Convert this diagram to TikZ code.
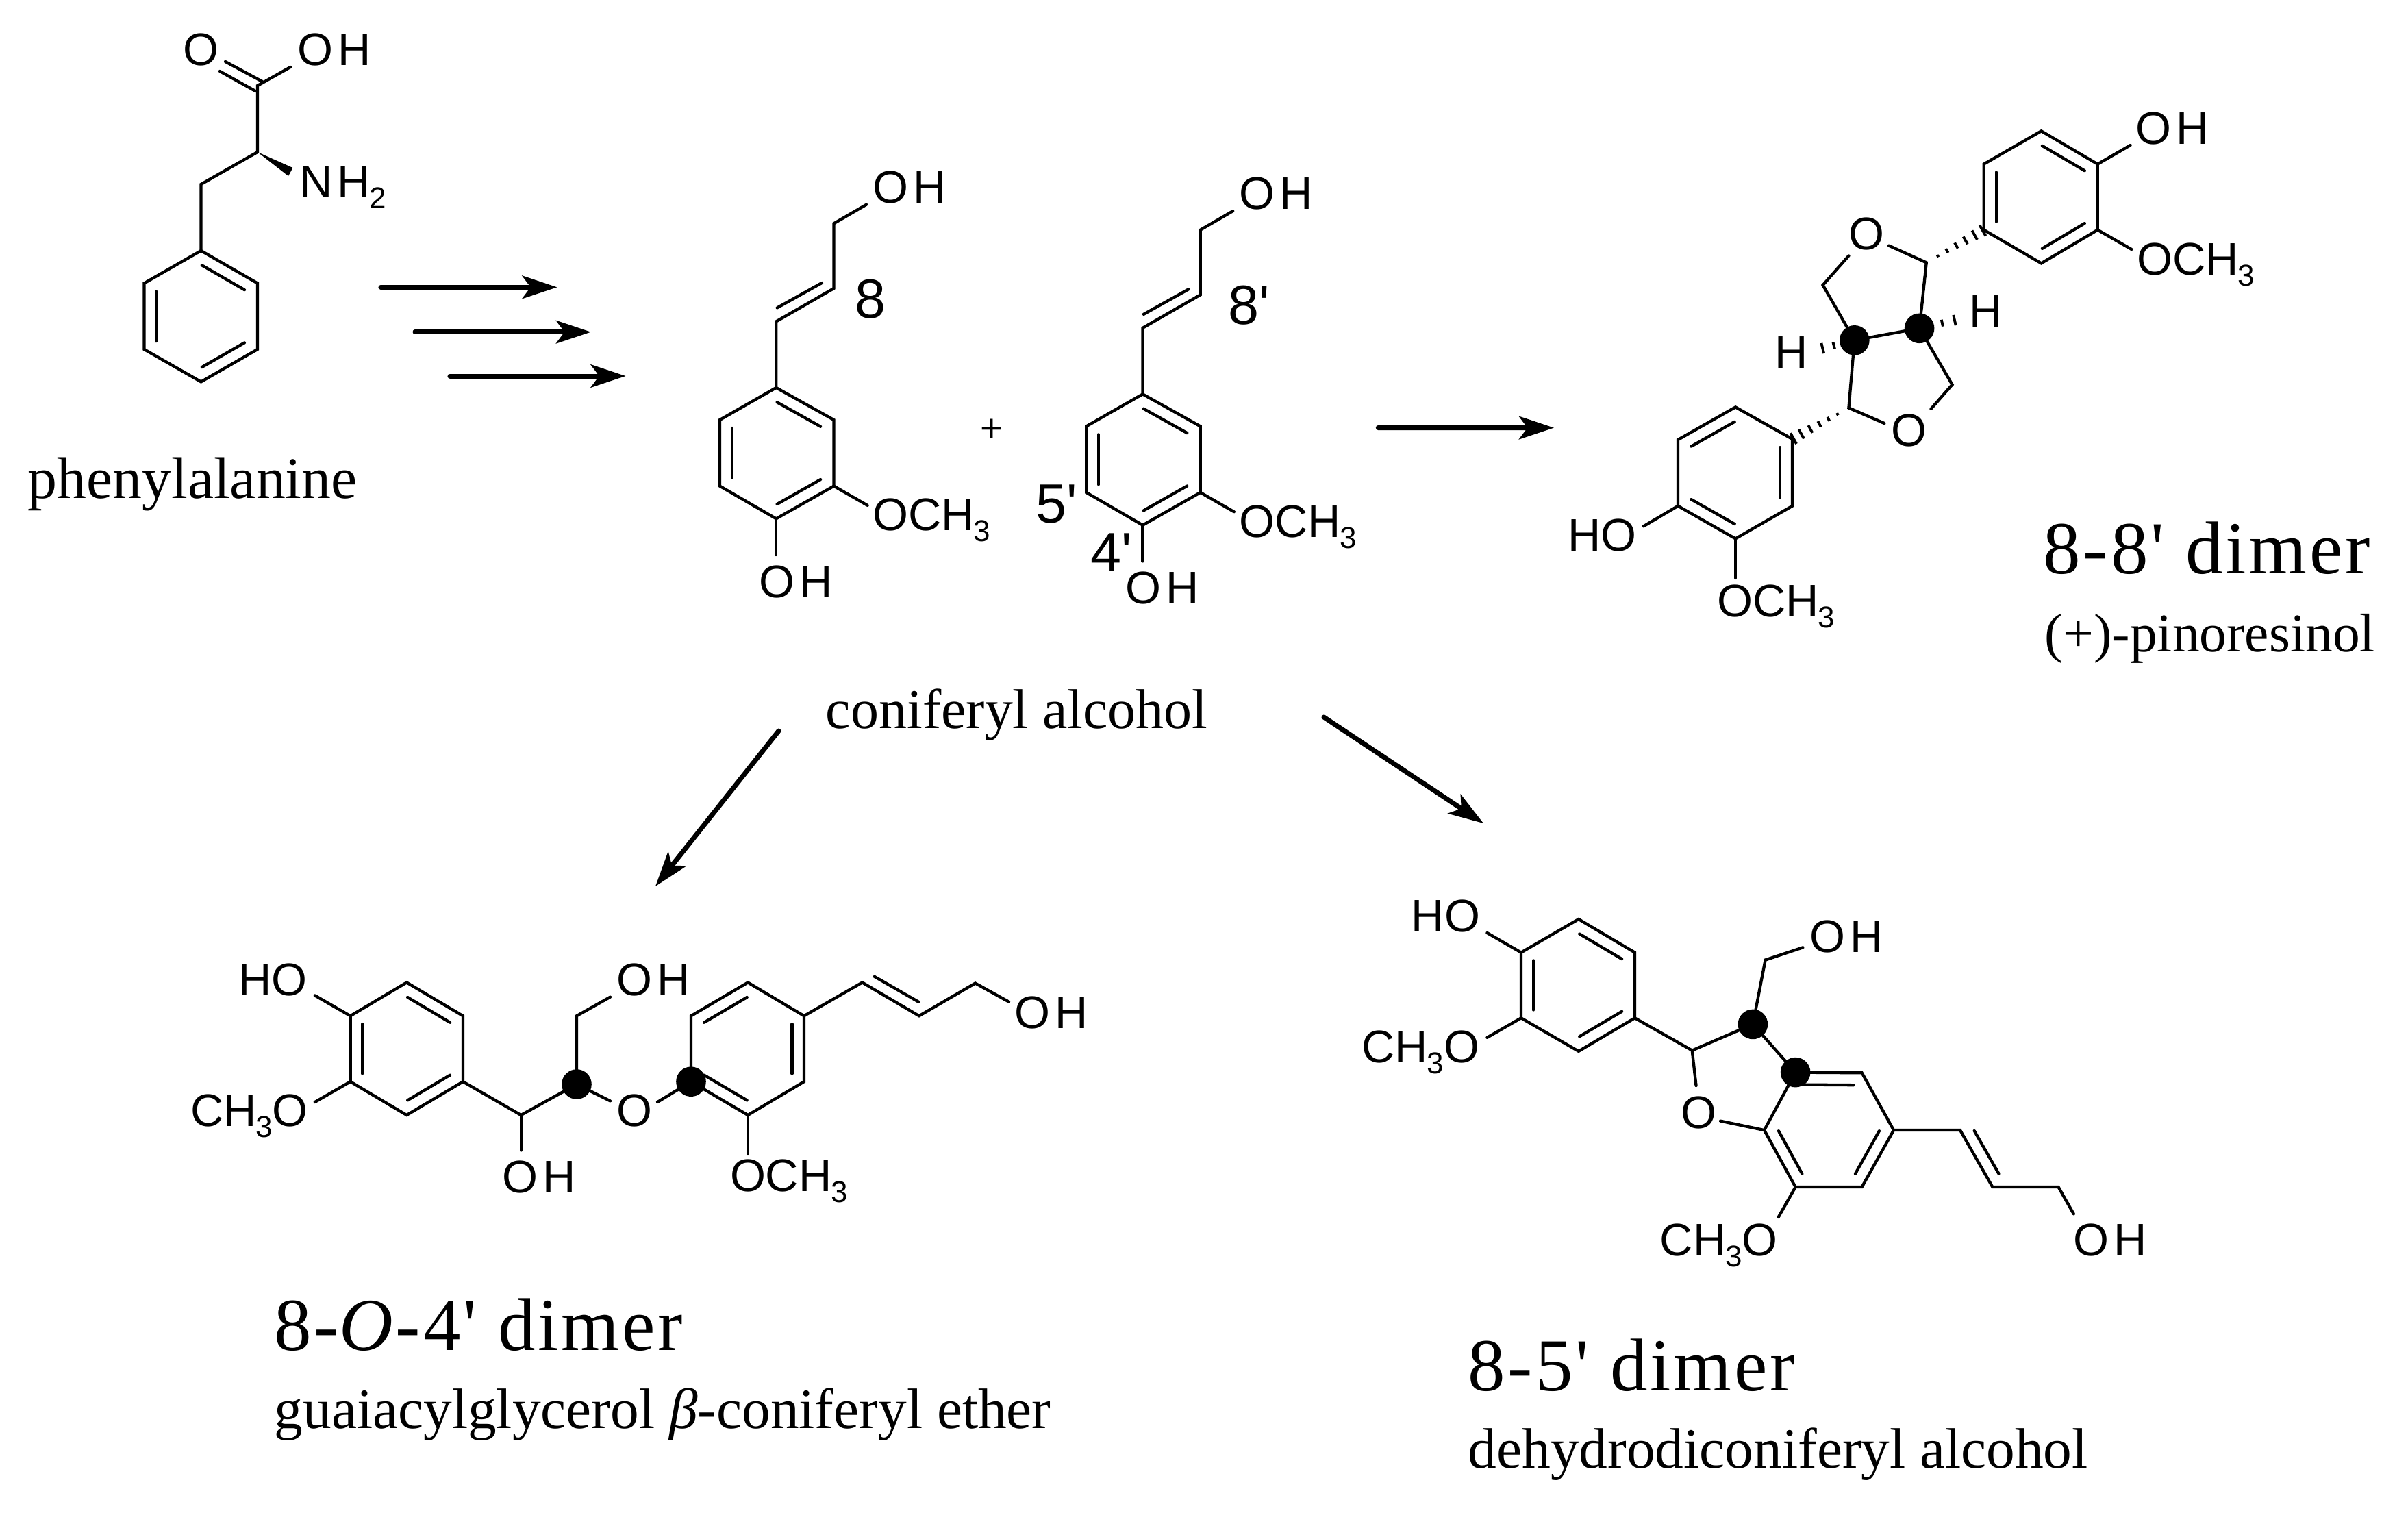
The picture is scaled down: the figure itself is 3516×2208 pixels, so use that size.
\documentclass[tikz,border=0pt]{standalone}
\usepackage{fontspec}
\usetikzlibrary{arrows.meta,calc}
\newfontfamily\chemfont{Liberation Sans}
\newfontfamily\captfont{Liberation Serif}
\newfontfamily\dimerfont[LetterSpace=3.5]{Liberation Serif}
\newcommand{\subnum}[1]{\kern-.02em\raisebox{-4.6pt}{\fontsize{12.5}{12.5}\selectfont #1}}
\newcommand{\ohtext}{O\kern2pt H}
\newcommand{\methoxy}{OCH\subnum{3}}
\newcommand{\methoxyrev}{CH\subnum{3}O}
\tikzset{
  bond/.style={line width=1.22pt,line cap=round},
  hash/.style={line width=1.1pt},
  atom/.style={inner sep=0pt,anchor=base west,xshift=-1pt,font=\chemfont\fontsize{19}{19}\selectfont},
  locant/.style={inner sep=0pt,anchor=base west,xshift=-1pt,font=\chemfont\fontsize{23}{23}\selectfont},
  capt/.style={inner sep=0pt,anchor=base west,xshift=-0.5pt,yshift=-0.9pt,font=\captfont\fontsize{23.7}{28}\selectfont},
  dimer/.style={inner sep=0pt,anchor=base west,xshift=-0.5pt,yshift=-0.9pt,font=\dimerfont\fontsize{31}{36}\selectfont},
  rxn/.style={line width=2pt,line cap=round,-{Stealth[length=14.5pt,width=9.5pt,inset=3.5pt]}},
  link/.style={circle,fill=black,inner sep=0pt,minimum size=12.4pt},
}
%% six corners, top first and clockwise
\newcommand{\arring}[7]{
  \coordinate (#1a) at #2;
  \coordinate (#1b) at #3;
  \coordinate (#1c) at #4;
  \coordinate (#1d) at #5;
  \coordinate (#1e) at #6;
  \coordinate (#1f) at #7;
  \coordinate (#1o) at ($(#1a)!.5!(#1d)$);
  \draw[bond] (#1a) -- (#1b) -- (#1c) -- (#1d) -- (#1e) -- (#1f) -- cycle;
}
\newcommand{\innerbonds}[2]{
  \foreach \p/\q in {#2} {
    \draw[bond] ($(#1\p)!.02!(#1\q)!.215!(#1o)$) -- ($(#1\q)!.02!(#1\p)!.215!(#1o)$); }
}
\newcommand{\hashbond}[3]{
  \foreach \t in {#3} {
    \pgfmathsetmacro{\hw}{\t*2.6}
    \draw[hash] ($(#1)!\t!(#2)!\hw pt!90:(#2)$) -- ($(#1)!\t!(#2)!\hw pt!-90:(#2)$); }
}
\newcommand{\coniferylunit}[1]{
  \arring{#1}{(1133.3,566)}{(1217.5,613)}{(1217.5,709.6)}{(1133.3,757.3)}{(1051,709.6)}{(1051,613)}
  \innerbonds{#1}{a/b,c/d,e/f}
  \coordinate (#1v1) at (1133.3,469.4);
  \coordinate (#1v2) at (1217.5,421);
  \coordinate (#1v3) at (1217.5,326.3);
  \coordinate (#1w1) at (1134.7,449.4);
  \coordinate (#1w2) at (1200,413);
  \coordinate (#1e1) at (1265,298.7);
  \coordinate (#1e2) at (1266.6,737.8);
  \coordinate (#1e3) at (1133.3,810);
  \draw[bond] (#1a) -- (#1v1) -- (#1v2) -- (#1v3) -- (#1e1);
  \draw[bond] (#1w1) -- (#1w2);
  \draw[bond] (#1c) -- (#1e2);
  \draw[bond] (#1d) -- (#1e3);
  \node[atom] (#1oh1) at (1277,296.5) {\ohtext};
  \node[atom] (#1ome) at (1277,774.6) {\methoxy};
  \node[atom] (#1oh2) at (1110.8,872) {\ohtext};
}
\begin{document}
\begin{tikzpicture}[x=0.01cm,y=-0.01cm]
  \useasboundingbox (0,0) rectangle (3516,2208);

  %% phenylalanine
  \arring{ph}{(293.5,366)}{(376,413.5)}{(376,510)}{(293.5,557.4)}{(210.5,510)}{(210.5,413.5)}
  \innerbonds{ph}{a/b,c/d,e/f}
  \coordinate (phcb) at (293.5,269);
  \coordinate (phca) at (376,222);
  \coordinate (phco) at (376,125);
  \coordinate (pheo) at (424,98);
  \coordinate (phd1) at (329,90);
  \coordinate (phd2) at (383,119);
  \coordinate (phd3) at (321,104);
  \coordinate (phd4) at (373,133);
  \coordinate (phw1) at (427.5,245);
  \coordinate (phw2) at (421,257);
  \draw[bond] (pha) -- (phcb) -- (phca) -- (phco) -- (pheo);
  \draw[bond] (phd1) -- (phd2);
  \draw[bond] (phd3) -- (phd4);
  \fill (phca) -- (phw1) -- (phw2) -- cycle;
  \node[atom] (phoxo) at (270,95.5) {O};
  \node[atom] (phoh) at (437,95.5) {\ohtext};
  \node[atom] (phnh) at (440,288.4) {N\kern2pt H\subnum{2}};
  \node[capt,font=\captfont\fontsize{24.4}{28}\selectfont] (phname) at (41.5,724.6) {phenylalanine};

  %% three steps
  \coordinate (s1a) at (556,419.3);
  \coordinate (s1b) at (813.5,419.3);
  \coordinate (s2a) at (606,484.7);
  \coordinate (s2b) at (863,484.7);
  \coordinate (s3a) at (657,549);
  \coordinate (s3b) at (913.6,549);
  \foreach \s in {s1,s2,s3} {
    \draw[rxn] (\s a) -- (\s b); }

  %% coniferyl alcohol
  \coniferylunit{ca}
  \begin{scope}[shift={(535.2,9.4)}]
    \coniferylunit{cb}
  \end{scope}
  \node[locant] (loc8) at (1251,464.5) {8};
  \node[locant] (loc8p) at (1796,473.8) {8'};
  \node[locant] (loc5p) at (1515.6,763.8) {5'};
  \node[locant] (loc4p) at (1595,834) {4'};
  \node[inner sep=0pt,font=\chemfont\fontsize{16}{16}\selectfont] (plus) at (1447.6,628) {+};
  \node[capt,font=\captfont\fontsize{23.3}{28}\selectfont] (caname) at (1207,1060) {coniferyl alcohol};

  %% outgoing arrows
  \coordinate (r1a) at (2012.3,624.5);
  \coordinate (r1b) at (2269,624.6);
  \coordinate (r2a) at (1137,1067);
  \coordinate (r2b) at (957,1294);
  \coordinate (r3a) at (1933,1047);
  \coordinate (r3b) at (2166,1202);
  \foreach \s in {r1,r2,r3} {
    \draw[rxn] (\s a) -- (\s b); }

  %% 8-8' dimer
  \arring{pu}{(2980.5,191.3)}{(3062.8,239.6)}{(3062.8,335.6)}{(2980.5,384.4)}{(2896.6,335.6)}{(2896.6,239.6)}
  \innerbonds{pu}{a/b,c/d,e/f}
  \arring{pl}{(2534,594.4)}{(2617,641)}{(2617,738.7)}{(2534,786.4)}{(2450,738.7)}{(2450,642)}
  \innerbonds{pl}{f/a,b/c,d/e}
  \coordinate (puh) at (3110.6,212);
  \coordinate (pum) at (3112.3,364);
  \coordinate (plh) at (2399.8,768.3);
  \coordinate (plm) at (2534,844);
  \draw[bond] (pub) -- (puh);
  \draw[bond] (puc) -- (pum);
  \draw[bond] (ple) -- (plh);
  \draw[bond] (pld) -- (plm);
  \coordinate (pc1) at (2812.7,383.3);
  \coordinate (pc2) at (2699.4,595.5);
  \coordinate (pc3) at (2661.6,416.2);
  \coordinate (pc4) at (2850.5,561.5);
  \coordinate (po1) at (2758,358.6);
  \coordinate (po2) at (2699.4,373.4);
  \coordinate (po3) at (2751.4,618);
  \coordinate (po4) at (2819.4,597);
  \coordinate (pd1) at (2707.8,496.8);
  \coordinate (pd2) at (2802.6,479.3);
  \coordinate (phl) at (2653,510.5);
  \coordinate (phr) at (2863,465.5);
  \draw[bond] (po1) -- (pc1) -- (pd2) -- (pd1) -- (pc2) -- (po3);
  \draw[bond] (po2) -- (pc3) -- (pd1);
  \draw[bond] (po4) -- (pc4) -- (pd2);
  \hashbond{pc1}{pue}{.2,.36,.52,.68,.84,.98}
  \hashbond{pc2}{plb}{.2,.36,.52,.68,.84,.98}
  \hashbond{pd1}{phl}{.55,.85}
  \hashbond{pd2}{phr}{.55,.85}
  \node[link] (pn1) at (pd1) {};
  \node[link] (pn2) at (pd2) {};
  \node[atom] (pox1) at (2702,364) {O};
  \node[atom] (pox2) at (2764,651) {O};
  \node[atom] (phtr) at (2878,477.6) {H};
  \node[atom] (phtl) at (2594.5,537) {H};
  \node[atom] (puoh) at (3121.5,210.5) {\ohtext};
  \node[atom] (puome) at (3123,401.4) {\methoxy};
  \node[atom] (ploh) at (2292.3,804.5) {HO};
  \node[atom] (plome) at (2510.5,900) {\methoxy};
  \node[dimer] (pdim) at (2984.7,834.7) {8-8' dimer};
  \node[capt,font=\captfont\fontsize{22.6}{28}\selectfont] (pname) at (2987,948) {(+)-pinoresinol};

  %% 8-O-4' dimer
  \arring{gl}{(593.8,1434.4)}{(676,1483.2)}{(676,1579.2)}{(593.8,1628)}{(511.6,1579.2)}{(511.6,1483.2)}
  \innerbonds{gl}{a/b,c/d,e/f}
  \arring{gr}{(1092,1434.4)}{(1174,1483.2)}{(1174,1579.2)}{(1092,1628)}{(1009,1579.2)}{(1009,1483.2)}
  \innerbonds{gr}{f/a,b/c,d/e}
  \coordinate (ge1) at (459.8,1453.4);
  \coordinate (ge2) at (459.8,1609);
  \coordinate (gc1) at (760.7,1628);
  \coordinate (ge3) at (760.7,1679.5);
  \coordinate (gd1) at (842,1583);
  \coordinate (gc2) at (842,1483.2);
  \coordinate (ge4) at (891,1455.6);
  \coordinate (ge5) at (891,1607.4);
  \coordinate (ge6) at (960,1609);
  \coordinate (ge7) at (1092,1685);
  \coordinate (gv1) at (1259,1434.4);
  \coordinate (gv2) at (1342,1483.2);
  \coordinate (gv3) at (1424,1435.5);
  \coordinate (ge8) at (1473,1462.6);
  \coordinate (gw1) at (1276.8,1425.8);
  \coordinate (gw2) at (1341,1462.6);
  \draw[bond] (glf) -- (ge1);
  \draw[bond] (gle) -- (ge2);
  \draw[bond] (glc) -- (gc1) -- (gd1) -- (gc2) -- (ge4);
  \draw[bond] (gc1) -- (ge3);
  \draw[bond] (gd1) -- (ge5);
  \draw[bond] (ge6) -- (gre);
  \draw[bond] (grd) -- (ge7);
  \draw[bond] (grb) -- (gv1) -- (gv2) -- (gv3) -- (ge8);
  \draw[bond] (gw1) -- (gw2);
  \node[link] (gn1) at (gd1) {};
  \node[link] (gn2) at (gre) {};
  \node[atom] (gho) at (351,1453.4) {HO};
  \node[atom] (gmeo) at (281,1644) {\methoxyrev};
  \node[atom] (goh1) at (736.6,1741.8) {\ohtext};
  \node[atom] (goh2) at (903.6,1453.4) {\ohtext};
  \node[atom] (gox) at (903.6,1644) {O};
  \node[atom] (gome) at (1068.8,1739) {\methoxy};
  \node[atom] (goh3) at (1484,1501.7) {\ohtext};
  \node[dimer] (gdim) at (401.8,1968) {8-\textit{O}-4' dimer};
  \node[capt] (gname) at (402,2082) {guaiacylglycerol \textit{β}-coniferyl ether};

  %% 8-5' dimer
  \arring{dl}{(2304.9,1342)}{(2387,1390.6)}{(2387,1486.3)}{(2304.9,1534.8)}{(2221,1486.3)}{(2221,1390.6)}
  \innerbonds{dl}{a/b,c/d,e/f}
  \arring{dr}{(2621.6,1565.6)}{(2718.6,1566.3)}{(2765,1650)}{(2718.6,1733)}{(2621.6,1733)}{(2576,1650)}
  \innerbonds{dr}{a/b,c/d,e/f}
  \coordinate (de1) at (2171.4,1362);
  \coordinate (de2) at (2171.4,1514.8);
  \coordinate (dc1) at (2470.7,1533.6);
  \coordinate (dd1) at (2559.4,1495.4);
  \coordinate (dc2) at (2577.6,1401.5);
  \coordinate (de3) at (2632.3,1383.3);
  \coordinate (de4) at (2476.5,1585);
  \coordinate (de5) at (2512,1636.6);
  \coordinate (de6) at (2596.7,1777);
  \coordinate (dv1) at (2862,1650);
  \coordinate (dv2) at (2909.3,1733);
  \coordinate (dv3) at (3005.5,1733);
  \coordinate (de7) at (3027.8,1772.3);
  \coordinate (dw1) at (2882.7,1651);
  \coordinate (dw2) at (2918.4,1713.5);
  \draw[bond] (dlf) -- (de1);
  \draw[bond] (dle) -- (de2);
  \draw[bond] (dlc) -- (dc1) -- (dd1) -- (dc2) -- (de3);
  \draw[bond] (dc1) -- (de4);
  \draw[bond] (de5) -- (drf);
  \draw[bond] (dd1) -- (dra);
  \draw[bond] (dre) -- (de6);
  \draw[bond] (drc) -- (dv1) -- (dv2) -- (dv3) -- (de7);
  \draw[bond] (dw1) -- (dw2);
  \node[link] (dn1) at (dd1) {};
  \node[link] (dn2) at (dra) {};
  \node[atom] (dho) at (2063.6,1360) {HO};
  \node[atom] (dmeo1) at (1991.5,1551) {\methoxyrev};
  \node[atom] (doh1) at (2644.8,1390.6) {\ohtext};
  \node[atom] (dox) at (2457.4,1647) {O};
  \node[atom] (dmeo2) at (2426.7,1833.5) {\methoxyrev};
  \node[atom] (doh2) at (3030.3,1833.5) {\ohtext};
  \node[dimer] (ddim) at (2144.8,2027) {8-5' dimer};
  \node[capt] (dname) at (2144.8,2140.7) {dehydrodiconiferyl alcohol};
\end{tikzpicture}
\end{document}
